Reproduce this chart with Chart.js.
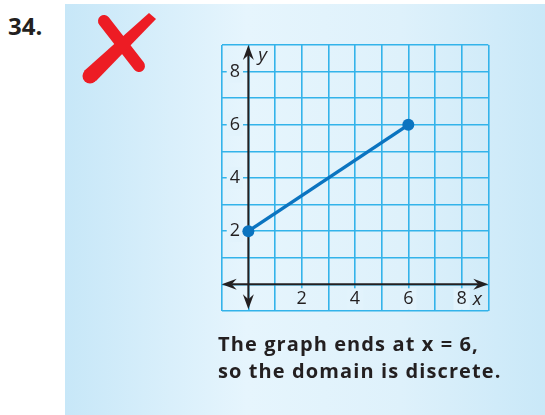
<!DOCTYPE html>
<html>
<head>
<meta charset="utf-8">
<script src="https://cdn.jsdelivr.net/npm/chart.js@4"></script>
<style>
  body { margin: 0; background: #fff; }
  #wrap { position: relative; width: 545px; height: 415px; overflow: hidden; background: #fff; }
  #panel {
    position: absolute; left: 65px; top: 4px; width: 480px; height: 411px;
    background: linear-gradient(to right, #c7e7f8 0%, #e6f5fd 38%, #def1fb 70%, #c9e8f8 100%);
  }
  #num {
    position: absolute; left: 8px; top: 9px; line-height: 24px;
    font: bold 24px "Open Sans", sans-serif; color: #231f20;
  }
  #mark { position: absolute; left: 0; top: 0; }
  #chart { position: absolute; left: 0; top: 0; }
  #note {
    position: absolute; left: 218px; top: 330px; line-height: 32px;
    font: bold 20px "Open Sans", sans-serif; letter-spacing: 1.1px;
    color: #231f20; white-space: nowrap;
  }
</style>
</head>
<body>
<div id="wrap">
  <div id="panel"></div>
  <div id="num">34.</div>
  <svg id="mark" width="200" height="100">
    <line x1="104" y1="21" x2="139" y2="66" stroke="#ed1c24" stroke-width="12" stroke-linecap="round"/>
    <polygon points="149,13 156,19 96,81 84,71" fill="#ed1c24"/>
    <circle cx="90" cy="76" r="7.5" fill="#ed1c24"/>
  </svg>
  <canvas id="chart" width="545" height="415"></canvas>
  <div id="note">The graph ends at x = 6,<br>so the domain is discrete.</div>
</div>
<script>
// segment end points
const xValues = [0, 6];
const yValues = [2, 6];

// labelled ticks and axis ranges
const xTickLabels = [2, 4, 6, 8];
const yTickLabels = [2, 4, 6, 8];
const xRange = [-1, 9];
const yRange = [-1, 9];

const gridColor = '#33b3ea';
const inkColor = '#231f20';
const lineColor = '#0b74c0';
const labelBack = '#e2f3fc';

function drawArrow(ctx, tx, ty, dx, dy) {
  const L = 15, W = 5.5, N = 5;
  const px = -dy, py = dx;
  ctx.beginPath();
  ctx.moveTo(tx, ty);
  ctx.lineTo(tx - dx * L + px * W, ty - dy * L + py * W);
  ctx.lineTo(tx - dx * (L - N), ty - dy * (L - N));
  ctx.lineTo(tx - dx * L - px * W, ty - dy * L - py * W);
  ctx.closePath();
  ctx.fill();
}

const axesPlugin = {
  id: 'axes',
  beforeDatasetsDraw(chart) {
    const ctx = chart.ctx;
    const sx = chart.scales.x;
    const sy = chart.scales.y;
    const x0 = sx.getPixelForValue(0);
    const y0 = sy.getPixelForValue(0);
    const left = sx.getPixelForValue(xRange[0]);
    const right = sx.getPixelForValue(xRange[1]);
    const top = sy.getPixelForValue(yRange[1]);
    const bottom = sy.getPixelForValue(yRange[0] + 0.06);
    ctx.save();
    ctx.strokeStyle = inkColor;
    ctx.fillStyle = inkColor;
    ctx.lineWidth = 2;
    ctx.beginPath();
    ctx.moveTo(left + 10, y0);
    ctx.lineTo(right - 10, y0);
    ctx.moveTo(x0, top + 10);
    ctx.lineTo(x0, bottom - 10);
    ctx.stroke();
    drawArrow(ctx, left, y0, -1, 0);
    drawArrow(ctx, right, y0, 1, 0);
    drawArrow(ctx, x0, top, 0, -1);
    drawArrow(ctx, x0, bottom, 0, 1);

    ctx.font = 'italic 19px "Open Sans"';
    ctx.textAlign = 'left';
    ctx.textBaseline = 'alphabetic';
    ctx.fillText('y', x0 + 10, top + 16);
    ctx.fillText('x', sx.getPixelForValue(8) + 11, sy.getPixelForValue(0) + 21);
    ctx.restore();
  }
};

function tickLabel(list) {
  return v => list.includes(v) ? String(v) : '';
}

new Chart(document.getElementById('chart'), {
  type: 'scatter',
  data: {
    datasets: [{
      data: xValues.map((x, i) => ({ x: x, y: yValues[i] })),
      showLine: true,
      borderColor: lineColor,
      backgroundColor: lineColor,
      borderWidth: 3.5,
      pointRadius: 6,
      pointBorderWidth: 0,
      clip: false
    }]
  },
  options: {
    responsive: false,
    animation: false,
    events: [],
    layout: { padding: { left: 221.7, top: 45.1, right: 56.7, bottom: 104.1 } },
    plugins: { legend: { display: false }, tooltip: { enabled: false } },
    scales: {
      x: {
        type: 'linear',
        min: xRange[0],
        max: xRange[1],
        afterFit: s => { s.height = 0; },
        border: { display: false },
        grid: { color: gridColor, lineWidth: 1.6, drawTicks: false },
        ticks: {
          stepSize: 1,
          autoSkip: false,
          mirror: true,
          padding: 1,
          color: inkColor,
          font: { family: 'Open Sans', size: 18, weight: '500' },
          callback: tickLabel(xTickLabels),
          showLabelBackdrop: true,
          backdropColor: c => xTickLabels.includes(c.tick.value) ? labelBack : 'rgba(0,0,0,0)',
          backdropPadding: { x: 3, y: 0 }
        }
      },
      y: {
        type: 'linear',
        min: yRange[0],
        max: yRange[1],
        afterFit: s => { s.width = 0; },
        border: { display: false },
        grid: { color: gridColor, lineWidth: 1.6, drawTicks: false },
        ticks: {
          stepSize: 1,
          autoSkip: false,
          mirror: true,
          padding: 8,
          color: inkColor,
          font: { family: 'Open Sans', size: 18, weight: '500' },
          callback: tickLabel(yTickLabels),
          showLabelBackdrop: true,
          backdropColor: c => yTickLabels.includes(c.tick.value) ? labelBack : 'rgba(0,0,0,0)',
          backdropPadding: { x: 3, y: 0 }
        }
      }
    }
  },
  plugins: [axesPlugin]
});
</script>
</body>
</html>
